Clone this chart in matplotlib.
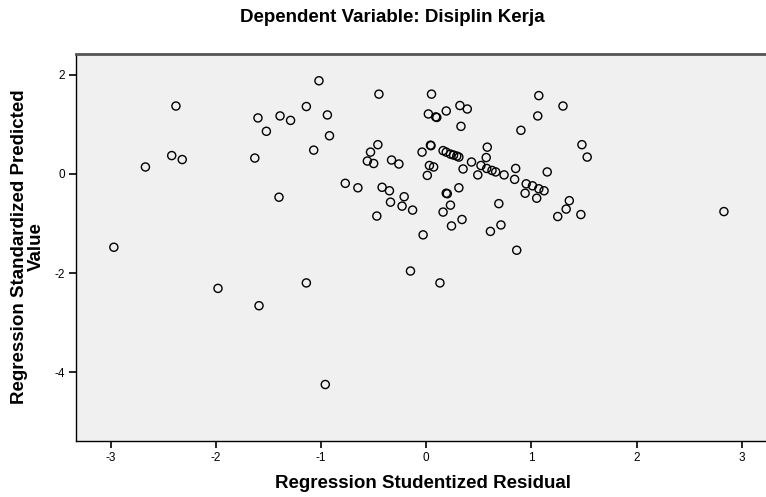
import matplotlib
matplotlib.use("Agg")
import matplotlib.pyplot as plt

plt.rcParams["font.family"] = ["Liberation Sans", "DejaVu Sans"]

# studentized residual (x) vs standardized predicted value (y)
resid = [
    -2.97, -2.67, -2.42, -2.32, -2.38, -1.98, -1.59, -1.63, -1.60, -1.52,
    -1.39, -1.29, -1.40, -1.14, -1.14, -1.02, -1.07, -0.94, -0.92, -0.96,
    -0.77, -0.65, -0.45, -0.46, -0.53, -0.56, -0.50, -0.33, -0.26, -0.42,
    -0.35, -0.21, -0.34, -0.23, -0.13, -0.47, -0.15, -0.03, -0.04, 0.04,
    0.045, 0.03, 0.07, 0.01, 0.05, 0.02, 0.09, 0.10, 0.19, 0.32,
    0.39, 0.33, 0.16, 0.19, 0.23, 0.26, 0.29, 0.31, 0.35, 0.43,
    0.58, 0.57, 0.52, 0.575, 0.625, 0.66, 0.74, 0.49, 0.85, 0.84,
    0.19, 0.20, 0.31, 0.23, 0.16, 0.24, 0.34, 0.69, 0.71, 0.61,
    0.86, 0.13, 0.90, 1.07, 1.30, 1.06, 1.48, 1.53, 1.15, 0.95,
    1.01, 1.07, 1.12, 0.94, 1.05, 1.36, 1.33, 1.25, 1.47, 2.83,
]
predicted = [
    -1.48, 0.14, 0.37, 0.29, 1.37, -2.31, -2.66, 0.32, 1.13, 0.86,
    1.17, 1.08, -0.47, 1.36, -2.20, 1.88, 0.48, 1.19, 0.77, -4.25,
    -0.19, -0.28, 1.61, 0.59, 0.44, 0.26, 0.21, 0.28, 0.20, -0.27,
    -0.34, -0.46, -0.57, -0.65, -0.73, -0.85, -1.96, -1.23, 0.44, 0.58,
    0.57, 0.17, 0.14, -0.03, 1.61, 1.21, 1.15, 1.14, 1.27, 1.38,
    1.31, 0.96, 0.47, 0.44, 0.40, 0.38, 0.36, 0.34, 0.10, 0.24,
    0.54, 0.33, 0.17, 0.11, 0.07, 0.04, -0.02, -0.02, 0.11, -0.11,
    -0.39, -0.40, -0.28, -0.63, -0.77, -1.05, -0.92, -0.60, -1.03, -1.16,
    -1.54, -2.20, 0.88, 1.58, 1.37, 1.17, 0.59, 0.34, 0.04, -0.20,
    -0.24, -0.30, -0.34, -0.39, -0.49, -0.54, -0.71, -0.86, -0.82, -0.76,
]

x_ticks = [-3, -2, -1, 0, 1, 2, 3]
y_ticks = [-4, -2, 0, 2]

fig = plt.figure(figsize=(7.66, 4.97), dpi=100)
ax = fig.add_axes([76 / 766, 1 - 441 / 497, 1 - 76 / 766, (441 - 54) / 497])
ax.set_facecolor("#f0f0f0")

ax.scatter(resid, predicted, s=34, facecolors="none", edgecolors="black", linewidths=1.0, zorder=3)

ax.set_xlim(-3.33, 3.23)
ax.set_ylim(-5.39, 2.42)
ax.set_xticks(x_ticks)
ax.set_yticks(y_ticks)
ax.set_xticklabels([str(t) for t in x_ticks])
ax.set_yticklabels([str(t) for t in y_ticks])
ax.tick_params(direction="out", length=5, width=1.2, colors="black", labelsize=8.5, pad=3)

ax.spines["right"].set_visible(False)
ax.spines["top"].set_color("#555555")
ax.spines["top"].set_linewidth(2)
ax.spines["left"].set_linewidth(1)
ax.spines["bottom"].set_linewidth(1)

fig.text(392 / 766, 1 - 18 / 497, "Dependent Variable: Disiplin Kerja",
         ha="center", va="center", fontsize=13.5, fontweight="bold")
fig.text(423 / 766, 1 - 484 / 497, "Regression Studentized Residual",
         ha="center", va="center", fontsize=13.5, fontweight="bold")
fig.text(28 / 766, 1 - 247 / 497, "Regression Standardized Predicted\nValue",
         ha="center", va="center", rotation=90, fontsize=13.5, fontweight="bold",
         linespacing=0.95)

fig.savefig("out.png", dpi=100)
